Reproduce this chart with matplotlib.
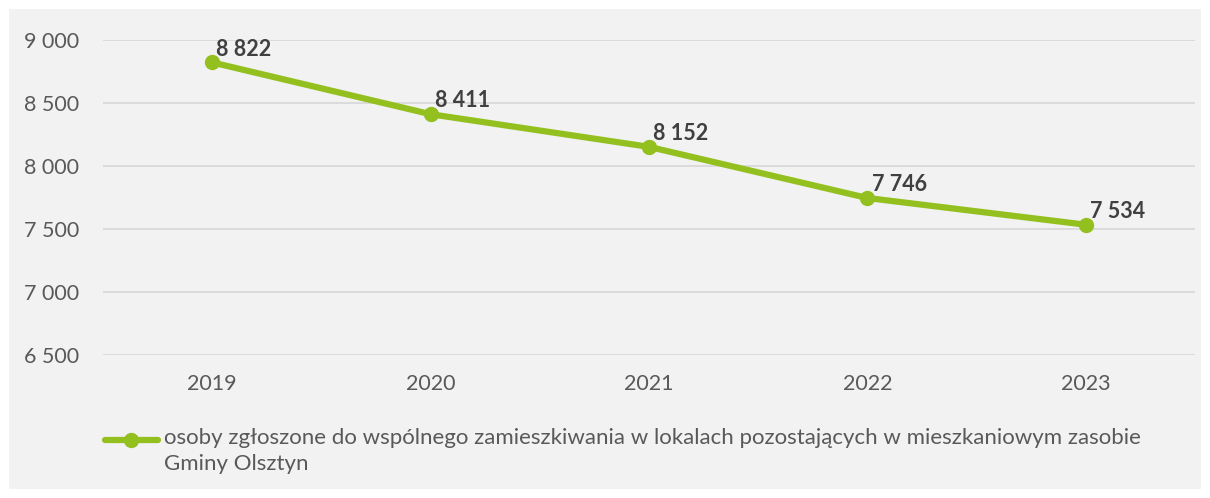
import matplotlib
matplotlib.use("Agg")
import matplotlib.pyplot as plt
from matplotlib.lines import Line2D
from matplotlib.patches import Rectangle

years = ["2019", "2020", "2021", "2022", "2023"]
values = [8822, 8411, 8152, 7746, 7534]
yticks = [6500, 7000, 7500, 8000, 8500, 9000]
legend_label = "osoby zgłoszone do wspólnego zamieszkiwania w lokalach pozostających w mieszkaniowym zasobie\nGminy Olsztyn"

plt.rcParams['font.family'] = ['Lato', 'DejaVu Sans']

W, H = 1210, 498
fig = plt.figure(figsize=(W/100, H/100), dpi=100)
fig.patch.set_facecolor('white')
fig.patches.append(Rectangle((9/W, 1 - 489/H), 1192/W, 480/H, transform=fig.transFigure,
                             facecolor='#F2F2F2', edgecolor='none', zorder=-5))

# plot area: x 103..1195, y: 9000 at 40, 6500 at 355
ax = fig.add_axes([103/W, 1 - 355/H, 1092/W, 315/H])
ax.set_facecolor('none')
ax.set_xlim(-0.5, 4.5)
ax.set_ylim(6500, 9000)

def fmt(v):
    return f"{v:,}".replace(",", " ")

FS = 15.5
ax.set_yticks(yticks)
ax.set_yticklabels([fmt(v) for v in yticks])
ax.set_xticks(range(len(years)))
ax.set_xticklabels(years)
ax.grid(axis='y', color='#D9D9D9', linewidth=1.3)
ax.set_axisbelow(True)
for s in ax.spines.values():
    s.set_visible(False)
ax.tick_params(axis='both', length=0, labelsize=FS, colors='#595959')
ax.tick_params(axis='y', pad=17)
ax.tick_params(axis='x', pad=14)

color = '#93C01F'
ax.plot(range(len(years)), values, color=color, linewidth=4.5, marker='o', markersize=10,
        solid_capstyle='round', clip_on=False, zorder=3)
for i, v in enumerate(values):
    ax.annotate(fmt(v), (i, v), xytext=(3, 2), textcoords='offset points',
                ha='left', va='bottom', fontsize=FS, fontweight='bold', color='#404040', zorder=4)

# legend
ly = 1 - 440/H
fig.add_artist(Line2D([105/W, 158/W], [ly, ly], color=color, linewidth=4.5,
                      solid_capstyle='round', transform=fig.transFigure))
fig.add_artist(Line2D([131/W], [ly], color=color, marker='o', markersize=10,
                      transform=fig.transFigure))
fig.text(164/W, 1 - 428/H, legend_label, ha='left', va='top', fontsize=16,
         color='#595959', linespacing=1.4)

fig.savefig("out.png", dpi=100, facecolor=fig.get_facecolor())
